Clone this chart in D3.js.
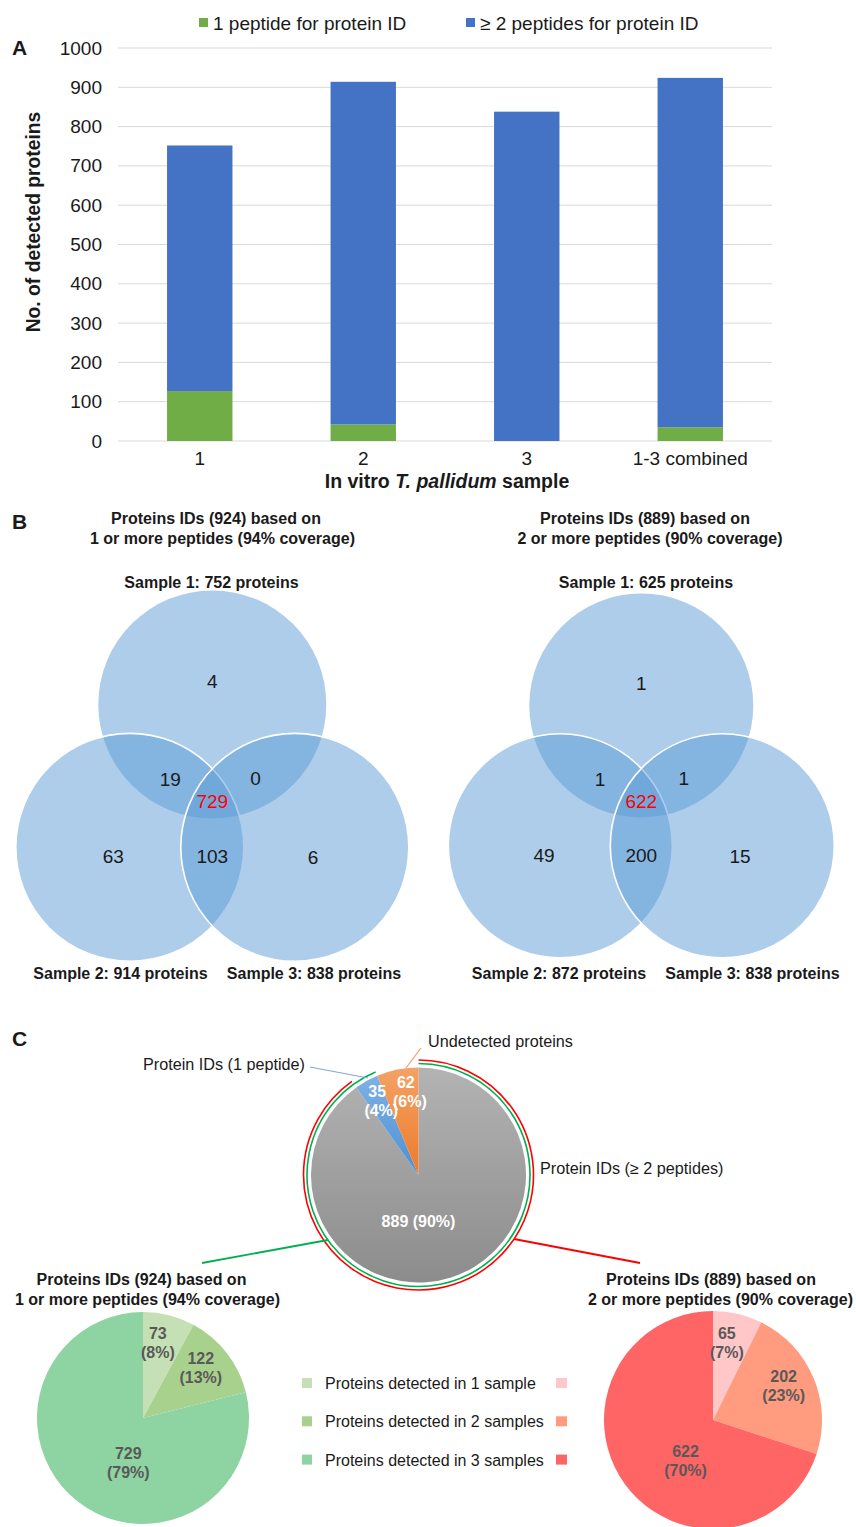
<!DOCTYPE html>
<html>
<head>
<meta charset="utf-8">
<script src="https://cdn.jsdelivr.net/npm/d3@7/dist/d3.min.js"></script>
<style>
  html, body { margin: 0; padding: 0; background: #fff; }
  svg { display: block; font-family: "Liberation Sans", Arial, sans-serif; }
</style>
</head>
<body>
<svg id="fig" width="856" height="1527"></svg>
<script>
// ---------- Panel A: detected proteins per sample ----------
const samples = ["1", "2", "3", "1-3 combined"];
const onePeptide = [127, 42, 0, 35];
const twoPlusPeptides = [625, 872, 838, 889];
const yTicks = [0, 100, 200, 300, 400, 500, 600, 700, 800, 900, 1000];
const barSeries = ["1 peptide for protein ID", "\u2265 2 peptides for protein ID"];

// ---------- Panel B: Venn region counts ----------
// region order: only S1, S1&S2, S1&S3, all three, only S2, S2&S3, only S3
const vennRegions = ["1", "12", "13", "123", "2", "23", "3"];
const vennLeftCounts = [4, 19, 0, 729, 63, 103, 6];
const vennRightCounts = [1, 1, 1, 622, 49, 200, 15];
const vennLeftTotals = [752, 914, 838];
const vennRightTotals = [625, 872, 838];

// ---------- Panel C: pies ----------
const overallLabels = ["Protein IDs (\u2265 2 peptides)", "Protein IDs (1 peptide)", "Undetected proteins"];
const overallCounts = [889, 35, 62];
const detectLabels = ["Proteins detected in 1 sample", "Proteins detected in 2 samples", "Proteins detected in 3 samples"];
const anyPeptideCounts = [73, 122, 729];
const twoPeptideCounts = [65, 202, 622];

const svg = d3.select("#fig");
const TXT = "#1a1a1a";
const FONT = "Liberation Sans, Arial, sans-serif";

// ======================= PANEL A =======================
const A = { left: 118, right: 772, top: 48, bottom: 441 };
const x = d3.scaleBand().domain(samples).range([A.left, A.right]).paddingInner(0.6).paddingOuter(0.3);
const y = d3.scaleLinear().domain([0, 1000]).range([A.bottom, A.top]);
const barColors = ["#70AD47", "#4472C4"];

const gA = svg.append("g");
// grid
gA.append("g").selectAll("line").data(yTicks).join("line")
  .attr("x1", A.left).attr("x2", A.right)
  .attr("y1", d => y(d)).attr("y2", d => y(d))
  .attr("stroke", "#d9d9d9").attr("stroke-width", 1);

const yAxis = d3.axisLeft(y).tickValues(yTicks).tickFormat(d3.format("d")).tickSize(0).tickPadding(16);
gA.append("g").attr("transform", `translate(${A.left},0)`).call(yAxis)
  .call(g => g.select(".domain").remove())
  .call(g => g.selectAll("text").attr("font-size", 19).attr("fill", TXT).attr("font-family", FONT));

const stackData = samples.map((s, i) => ({ sample: s, one: onePeptide[i], two: twoPlusPeptides[i] }));
const stacked = d3.stack().keys(["one", "two"])(stackData);
gA.append("g").selectAll("g").data(stacked).join("g")
  .attr("fill", (d, i) => barColors[i])
  .selectAll("rect").data(d => d).join("rect")
  .attr("x", d => x(d.data.sample))
  .attr("width", x.bandwidth())
  .attr("y", d => y(d[1]))
  .attr("height", d => y(d[0]) - y(d[1]));

const xAxis = d3.axisBottom(x).tickSize(0).tickPadding(11);
gA.append("g").attr("transform", `translate(0,${A.bottom})`).call(xAxis)
  .call(g => g.select(".domain").remove())
  .call(g => g.selectAll("text").attr("font-size", 19).attr("fill", TXT).attr("font-family", FONT));

// x title with italic species name
const xt = gA.append("text").attr("x", 447).attr("y", 488).attr("text-anchor", "middle")
  .attr("font-size", 19.5).attr("font-weight", "bold").attr("fill", TXT);
xt.append("tspan").text("In vitro ");
xt.append("tspan").attr("font-style", "italic").text("T. pallidum");
xt.append("tspan").text(" sample");

gA.append("text").attr("transform", "translate(40,222) rotate(-90)")
  .attr("text-anchor", "middle").attr("font-size", 19.3).attr("font-weight", "bold")
  .attr("fill", TXT).text("No. of detected proteins");

gA.append("text").attr("x", 12).attr("y", 55).attr("font-size", 21).attr("font-weight", "bold")
  .attr("fill", TXT).text("A");

// legend
const legX = [199, 466];
const lg = gA.append("g").selectAll("g").data(barSeries).join("g")
  .attr("transform", (d, i) => `translate(${legX[i]},23)`);
lg.append("rect").attr("x", 0).attr("y", -5).attr("width", 9).attr("height", 9)
  .attr("fill", (d, i) => barColors[i]);
lg.append("text").attr("x", 14).attr("y", 7).attr("font-size", 19).attr("fill", TXT).text(d => d);

// ======================= PANEL B =======================
svg.append("text").attr("x", 12).attr("y", 529).attr("font-size", 21).attr("font-weight", "bold")
  .attr("fill", TXT).text("B");

function drawVenn(cx, cy, r, side, counts, totals, title, opt) {
  const g = svg.append("g");
  const h = side * Math.sqrt(3) / 2;
  const centers = [
    [cx, cy - 2 * h / 3],
    [cx - side / 2, cy + h / 3],
    [cx + side / 2, cy + h / 3]
  ];
  g.selectAll("circle").data(centers).join("circle")
    .attr("cx", d => d[0]).attr("cy", d => d[1]).attr("r", r)
    .attr("fill", "#5B9BD5").attr("fill-opacity", 0.5)
    .attr("stroke", (d, i) => i === 0 ? "none" : "#fff").attr("stroke-width", 1.6);

  const cen = [cx, cy];
  const away = (p, k) => [cen[0] + (p[0] - cen[0]) * k, cen[1] + (p[1] - cen[1]) * k];
  const mid = (a, b) => [(a[0] + b[0]) / 2, (a[1] + b[1]) / 2];
  const pos = {
    "1": away(centers[0], 1.24),
    "2": away(centers[1], 1.2),
    "3": away(centers[2], 1.22),
    "12": away(mid(centers[0], centers[1]), 1.02),
    "13": away(mid(centers[0], centers[2]), 1.05),
    "23": away(mid(centers[1], centers[2]), 1.2),
    "123": [cx, cy + 2]
  };
  pos["12"][1] += 4; pos["13"][1] += 4;
  g.selectAll("text.num").data(vennRegions).join("text").attr("class", "num")
    .attr("x", d => pos[d][0]).attr("y", d => pos[d][1])
    .attr("text-anchor", "middle").attr("dominant-baseline", "central")
    .attr("font-size", 19)
    .attr("fill", d => d === "123" ? "#ff0000" : TXT)
    .text((d, i) => counts[i]);

  // set labels
  g.selectAll("text.set").data(totals).join("text").attr("class", "set")
    .attr("x", (d, i) => opt.setX[i]).attr("y", (d, i) => i === 0 ? 588 : 979)
    .attr("text-anchor", "middle").attr("font-size", 16).attr("font-weight", "bold").attr("fill", TXT)
    .text((d, i) => `Sample ${i + 1}: ${d} proteins`);

  g.selectAll("text.title").data(title).join("text").attr("class", "title")
    .attr("x", (d, i) => opt.titleX[i]).attr("y", (d, i) => 524 + i * 19.5)
    .attr("text-anchor", "middle").attr("font-size", 16).attr("font-weight", "bold").attr("fill", TXT)
    .text(d => d);
}
drawVenn(212.3, 799.7, 114, 165, vennLeftCounts, vennLeftTotals,
  ["Proteins IDs (924) based on", "1 or more peptides (94% coverage)"],
  { setX: [211.5, 120.5, 314], titleX: [216, 222.5] });
drawVenn(641.3, 799, 112, 162, vennRightCounts, vennRightTotals,
  ["Proteins IDs (889) based on", "2 or more peptides (90% coverage)"],
  { setX: [646, 559, 752.5], titleX: [645, 650] });

// ======================= PANEL C =======================
svg.append("text").attr("x", 12).attr("y", 1046).attr("font-size", 21).attr("font-weight", "bold")
  .attr("fill", TXT).text("C");

const defs = svg.append("defs");
function vGrad(id, top, bottom) {
  const gr = defs.append("linearGradient").attr("id", id).attr("x1", 0).attr("y1", 0).attr("x2", 0).attr("y2", 1);
  gr.append("stop").attr("offset", "0%").attr("stop-color", top);
  gr.append("stop").attr("offset", "100%").attr("stop-color", bottom);
}
vGrad("gGray", "#b3b3b3", "#8c8c8c");
vGrad("gBlue", "#7fb1e3", "#4b8fd6");
vGrad("gOrange", "#f4a266", "#ee7a2a");

const MC = [418.5, 1175], MR = 107.5;
const mainFills = ["url(#gGray)", "url(#gBlue)", "url(#gOrange)"];
const totalAll = d3.sum(overallCounts);
const pieGen = d3.pie().sort(null).value(d => d);
const mainArcs = pieGen(overallCounts);
const arcMain = d3.arc().innerRadius(0).outerRadius(MR);
const gMain = svg.append("g").attr("transform", `translate(${MC[0]},${MC[1]})`);
gMain.selectAll("path").data(mainArcs).join("path")
  .attr("d", arcMain).attr("fill", (d, i) => mainFills[i]);

// slice labels
const lblArc = d3.arc().innerRadius(85).outerRadius(85);
mainArcs.forEach((a, i) => {
  const pct = Math.round(a.value / totalAll * 100);
  let p, lines;
  if (i === 0) { p = [0, 46]; lines = [`${a.value} (${pct}%)`]; }
  else { p = lblArc.centroid(a); p[0] += (i === 2 ? 4 : 0); lines = [a.value, `(${pct}%)`]; }
  const t = gMain.append("text").attr("text-anchor", "middle").attr("fill", "#fff")
    .attr("font-size", 16).attr("font-weight", "bold");
  lines.forEach((s, k) => t.append("tspan").attr("x", p[0] + (k === 1 && i > 0 ? 4 : 0))
    .attr("y", p[1] + (lines.length === 1 ? 6 : -4 + k * 19)).text(s));
});

// coverage rings: green = any peptide IDs, red = ≥2 peptide IDs
const ringEnd = d3.scaleLinear().domain([0, totalAll]).range([0, 2 * Math.PI]);
const ringArc = (r, v) => d3.arc().innerRadius(r).outerRadius(r)({ startAngle: 0, endAngle: ringEnd(v) });
gMain.append("path").attr("d", ringArc(111.5, overallCounts[0] + overallCounts[1]))
  .attr("fill", "none").attr("stroke", "#00b050").attr("stroke-width", 1.6);
gMain.append("path").attr("d", ringArc(115, overallCounts[0]))
  .attr("fill", "none").attr("stroke", "#ff0000").attr("stroke-width", 1.6);

// callouts
const callouts = svg.append("g").attr("font-size", 16.2).attr("fill", TXT);
svg.append("line").attr("x1", 310).attr("y1", 1067).attr("x2", 368).attr("y2", 1078)
  .attr("stroke", "#7fa9dc").attr("stroke-width", 1.2);
svg.append("line").attr("x1", 406).attr("y1", 1068).attr("x2", 421).attr("y2", 1048)
  .attr("stroke", "#f2a06a").attr("stroke-width", 1.2);
callouts.append("text").attr("x", 305).attr("y", 1070).attr("text-anchor", "end").text(overallLabels[1]);
callouts.append("text").attr("x", 428).attr("y", 1047).text(overallLabels[2]);
callouts.append("text").attr("x", 540).attr("y", 1174).text(overallLabels[0]);

svg.append("line").attr("x1", 328).attr("y1", 1240).attr("x2", 202).attr("y2", 1263)
  .attr("stroke", "#00b050").attr("stroke-width", 1.8);
svg.append("line").attr("x1", 514).attr("y1", 1239).attr("x2", 640).attr("y2", 1263)
  .attr("stroke", "#ff0000").attr("stroke-width", 1.8);

// bottom pies
function drawDetectPie(cx, cy, r, counts, colors, title, titleX) {
  const tot = d3.sum(counts);
  const arcs = pieGen(counts);
  const g = svg.append("g").attr("transform", `translate(${cx},${cy})`);
  g.selectAll("path").data(arcs).join("path")
    .attr("d", d3.arc().innerRadius(0).outerRadius(r)).attr("fill", (d, i) => colors[i]);
  const maxV = d3.max(counts);
  arcs.forEach(a => {
    const midA = (a.startAngle + a.endAngle) / 2;
    let ang, rr;
    if (a.value === maxV) { ang = midA - 20 * Math.PI / 180; rr = 0.45 * r; }
    else { ang = midA - 3 * Math.PI / 180; rr = 0.72 * r; }
    const px = Math.sin(ang) * rr, py = -Math.cos(ang) * rr;
    const t = g.append("text").attr("text-anchor", "middle").attr("fill", "#595959")
      .attr("font-size", 16).attr("font-weight", "bold");
    t.append("tspan").attr("x", px).attr("y", py - 4).text(a.value);
    t.append("tspan").attr("x", px).attr("y", py + 15).text(`(${Math.round(a.value / tot * 100)}%)`);
  });
  svg.append("g").selectAll("text").data(title).join("text")
    .attr("x", (d, i) => titleX[i]).attr("y", (d, i) => 1285 + i * 20)
    .attr("text-anchor", "middle").attr("font-size", 16).attr("font-weight", "bold").attr("fill", TXT)
    .text(d => d);
}
const greens = ["#c5e0b4", "#a9d18e", "#8ed3a2"];
const reds = ["#ffc7c7", "#ff9b7f", "#ff6565"];
drawDetectPie(143, 1418, 106, anyPeptideCounts, greens,
  ["Proteins IDs (924) based on", "1 or more peptides (94% coverage)"], [141.5, 147.5]);
drawDetectPie(713, 1420, 109, twoPeptideCounts, reds,
  ["Proteins IDs (889) based on", "2 or more peptides (90% coverage)"], [711, 720.5]);

// middle legend
const lgC = svg.append("g").selectAll("g").data(detectLabels).join("g")
  .attr("transform", (d, i) => `translate(0,${1383 + i * 38.3})`);
lgC.append("rect").attr("x", 302).attr("y", -5).attr("width", 10).attr("height", 10).attr("fill", (d, i) => greens[i]);
lgC.append("rect").attr("x", 556).attr("y", -5).attr("width", 11).attr("height", 10).attr("fill", (d, i) => reds[i]);
lgC.append("text").attr("x", 325).attr("y", 6).attr("font-size", 16).attr("fill", TXT).text(d => d);
</script>
</body>
</html>
